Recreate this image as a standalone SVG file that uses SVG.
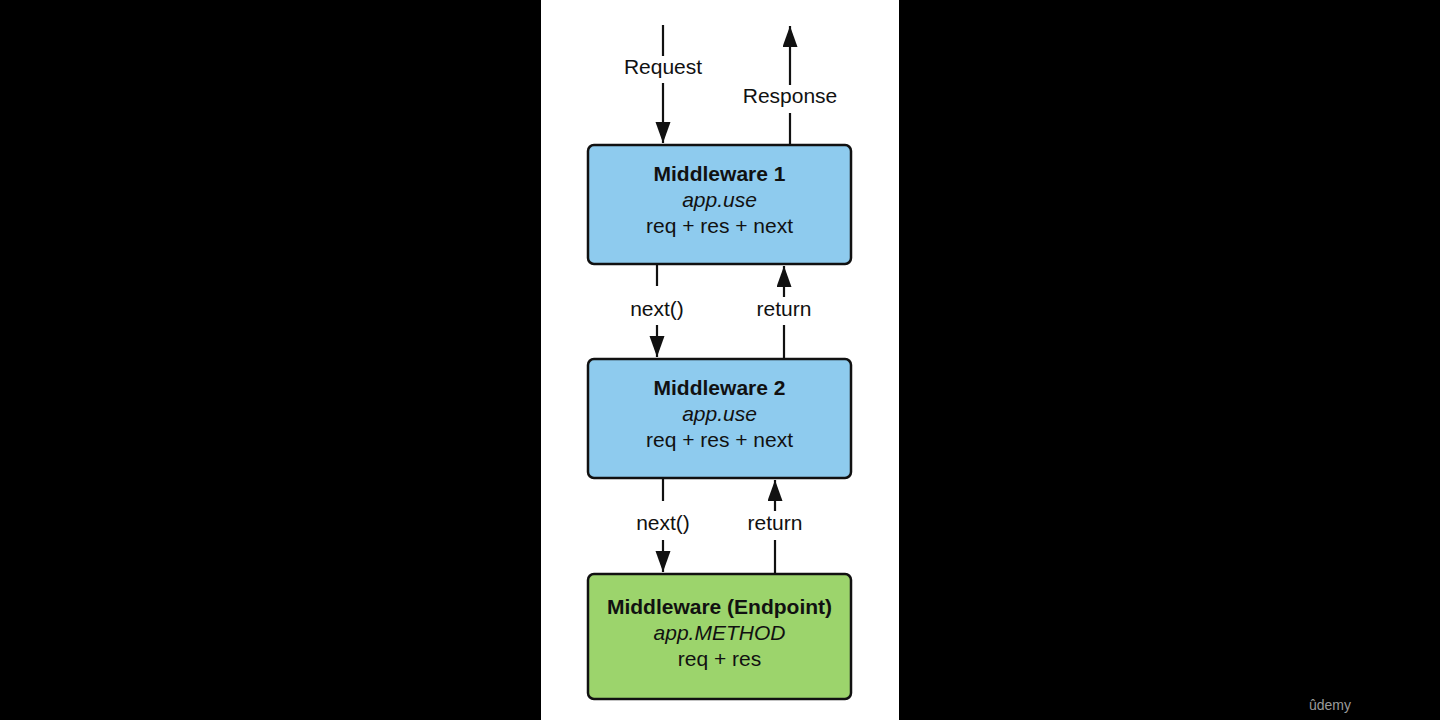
<svg xmlns="http://www.w3.org/2000/svg" width="1440" height="720" viewBox="0 0 1440 720">
<style>
.box{stroke:#111;stroke-width:2.5}
.blue{fill:#8ecbee}
.green{fill:#9cd46c}
text{font-family:"Liberation Sans",Arial,sans-serif;font-size:21px;fill:#111;text-anchor:middle}
.b{font-weight:bold}
.i{font-style:italic}
.ln{stroke:#111;stroke-width:2.2;fill:none}
</style>
<defs>
<marker id="ah" markerUnits="userSpaceOnUse" markerWidth="22" markerHeight="16" refX="21" refY="7.5" orient="auto">
<path d="M0,0 L21,7.5 L0,15 z" fill="#111"/>
</marker>
</defs>
<rect x="0" y="0" width="1440" height="720" fill="#000"/>
<rect x="541" y="0" width="358" height="720" fill="#fff"/>
<g id="connectors">
<line class="ln" x1="663" y1="25" x2="663" y2="56"/>
<line class="ln" x1="663" y1="83" x2="663" y2="143" marker-end="url(#ah)"/>
<text x="663" y="74">Request</text>
<line class="ln" x1="790" y1="145" x2="790" y2="113"/>
<line class="ln" x1="790" y1="85" x2="790" y2="26" marker-end="url(#ah)"/>
<text x="790" y="103">Response</text>
<line class="ln" x1="657" y1="265" x2="657" y2="286"/>
<line class="ln" x1="657" y1="325" x2="657" y2="357" marker-end="url(#ah)"/>
<text x="657" y="316">next()</text>
<line class="ln" x1="784" y1="358" x2="784" y2="325"/>
<line class="ln" x1="784" y1="297" x2="784" y2="266" marker-end="url(#ah)"/>
<text x="784" y="316">return</text>
<line class="ln" x1="663" y1="479" x2="663" y2="501"/>
<line class="ln" x1="663" y1="540" x2="663" y2="572" marker-end="url(#ah)"/>
<text x="663" y="530">next()</text>
<line class="ln" x1="775" y1="573" x2="775" y2="540"/>
<line class="ln" x1="775" y1="511" x2="775" y2="480" marker-end="url(#ah)"/>
<text x="775" y="530">return</text>
</g>
<g id="mw1">
<rect class="box blue" x="588" y="145" width="263" height="119" rx="6"/>
<text class="b" x="719.5" y="181">Middleware 1</text>
<text class="i" x="719.5" y="207">app.use</text>
<text x="719.5" y="233">req + res + next</text>
</g>
<g id="mw2">
<rect class="box blue" x="588" y="359" width="263" height="119" rx="6"/>
<text class="b" x="719.5" y="395">Middleware 2</text>
<text class="i" x="719.5" y="421">app.use</text>
<text x="719.5" y="447">req + res + next</text>
</g>
<g id="endpoint">
<rect class="box green" x="588" y="574" width="263" height="125" rx="6"/>
<text class="b" x="719.5" y="614">Middleware (Endpoint)</text>
<text class="i" x="719.5" y="640">app.METHOD</text>
<text x="719.5" y="666">req + res</text>
</g>
<text x="1330" y="710" style="font-size:14px;fill:#9a9a9a">ûdemy</text>
</svg>
